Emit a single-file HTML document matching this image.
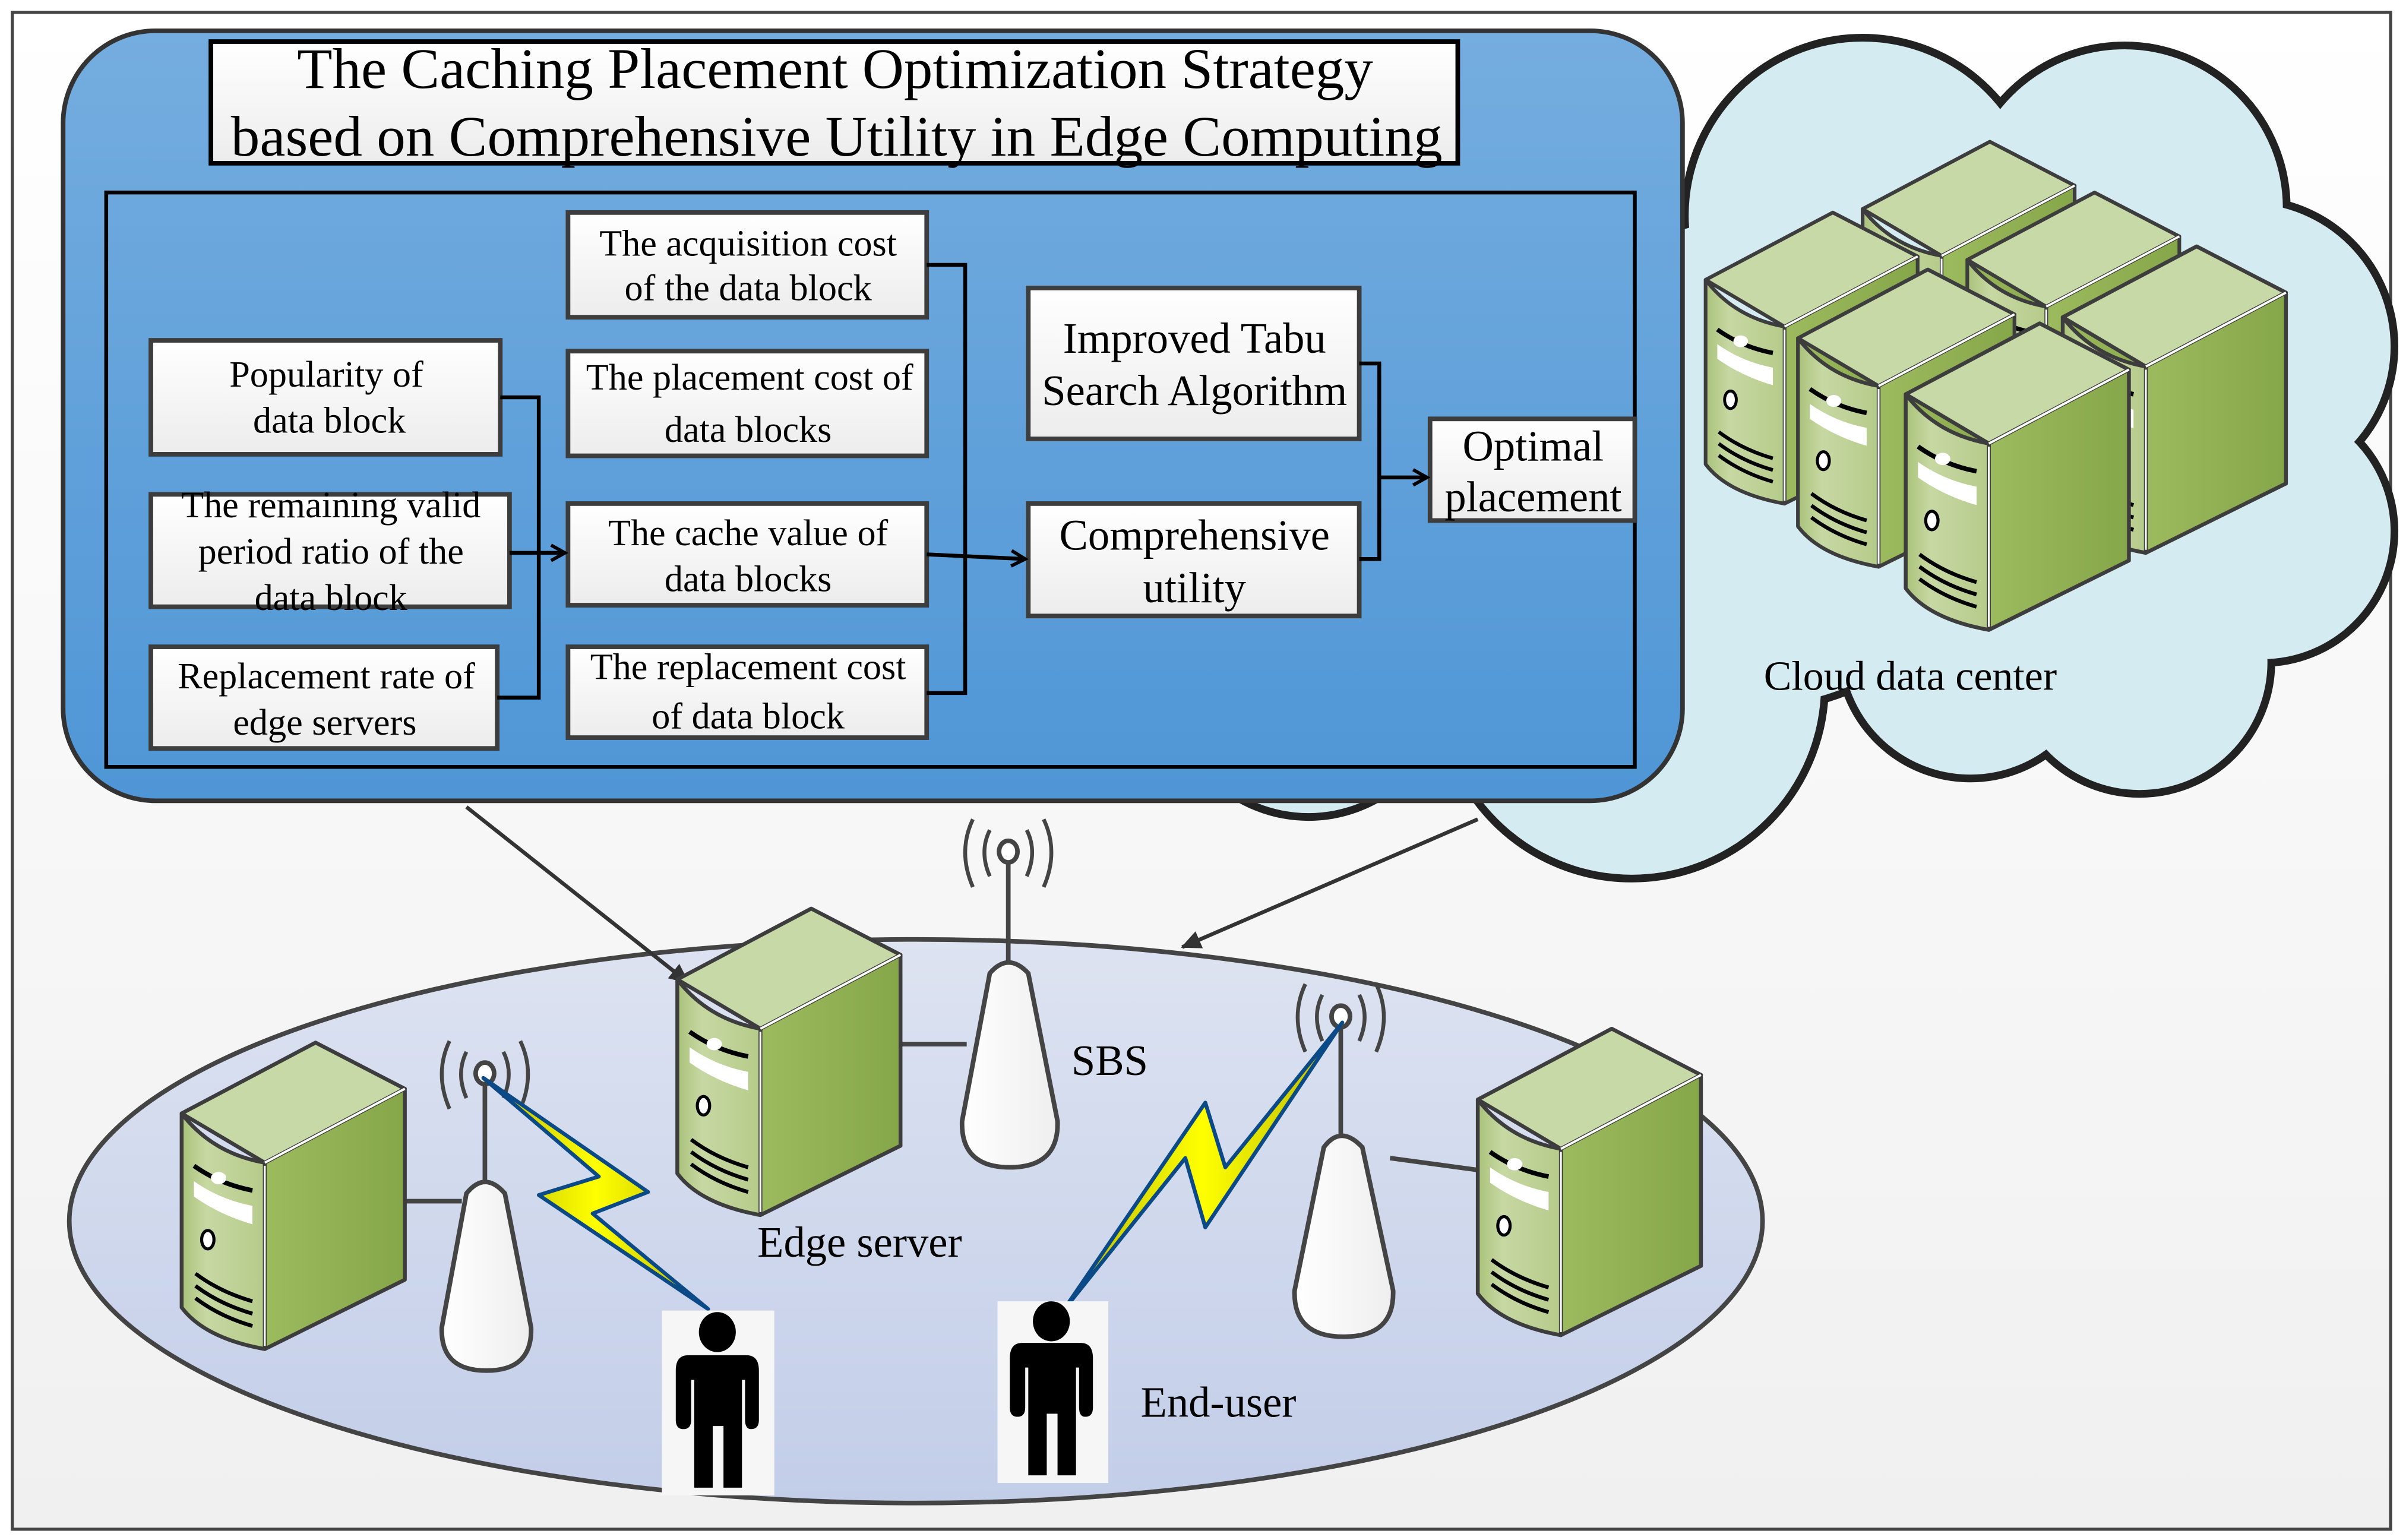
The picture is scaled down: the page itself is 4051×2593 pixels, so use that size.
<!DOCTYPE html>
<html><head><meta charset="utf-8"><style>
html,body{margin:0;padding:0;background:#fff;}
svg{display:block;}
text{font-family:"Liberation Serif",serif;fill:#000;}
</style></head><body>
<svg width="4051" height="2593" viewBox="0 0 1563 1000" preserveAspectRatio="none" xmlns="http://www.w3.org/2000/svg">
<defs>
<linearGradient id="bg" x1="0" y1="0" x2="0" y2="1"><stop offset="0" stop-color="#ffffff"/><stop offset="1" stop-color="#f0f0f0"/></linearGradient>
<linearGradient id="blue" x1="0" y1="0" x2="0" y2="1"><stop offset="0" stop-color="#75addf"/><stop offset="1" stop-color="#4f96d6"/></linearGradient>
<linearGradient id="box" x1="0" y1="0" x2="0" y2="1"><stop offset="0" stop-color="#ffffff"/><stop offset="1" stop-color="#ececec"/></linearGradient>
<linearGradient id="ell" x1="0" y1="0" x2="0" y2="1"><stop offset="0" stop-color="#dde3f1"/><stop offset="1" stop-color="#c2cde8"/></linearGradient>
<linearGradient id="side" x1="0" y1="0" x2="1" y2="0"><stop offset="0" stop-color="#9cbb5e"/><stop offset="1" stop-color="#86a64a"/></linearGradient>
<linearGradient id="front" x1="0" y1="0" x2="1" y2="0"><stop offset="0" stop-color="#a9c27a"/><stop offset="0.3" stop-color="#c7d8a3"/><stop offset="1" stop-color="#b5cb8a"/></linearGradient>
<linearGradient id="tower" x1="0" y1="0" x2="1" y2="0"><stop offset="0" stop-color="#ffffff"/><stop offset="1" stop-color="#eeeeee"/></linearGradient>
<linearGradient id="bolt" x1="0" y1="0" x2="1" y2="0"><stop offset="0" stop-color="#b8b800"/><stop offset="0.5" stop-color="#ffff00"/><stop offset="1" stop-color="#b8b800"/></linearGradient>
<marker id="ar" markerWidth="12" markerHeight="12" refX="10" refY="6" orient="auto" markerUnits="userSpaceOnUse"><path d="M1,1 L10,6 L1,11" fill="none" stroke="#000" stroke-width="2.2"/></marker>
<marker id="ar2" markerWidth="14" markerHeight="14" refX="12" refY="7" orient="auto" markerUnits="userSpaceOnUse"><path d="M0,1 L13,7 L0,13 Z" fill="#333"/></marker>
<g id="srv">
<path d="M0,46 L87,0 L145,30 L54,78 Z" fill="#c8d9a8" stroke="#3d3d3d" stroke-width="2.5" stroke-linejoin="round"/>
<path d="M54,78 L145,30 L145,154 L54,199 Z" fill="url(#side)" stroke="#3d3d3d" stroke-width="2.5" stroke-linejoin="round"/>
<path d="M0,46 Q20,72 54,78 L54,199 Q15,192 0,172 Z" fill="url(#front)" stroke="#3d3d3d" stroke-width="2.5" stroke-linejoin="round"/>
<path d="M54,78 L145,30" stroke="#fff" stroke-width="1.5"/>
<path d="M54,80 L54,197" stroke="#fff" stroke-width="1.2"/>
<path d="M8,80 Q25,92 46,96" stroke="#000" stroke-width="3" fill="none"/>
<ellipse cx="24" cy="88" rx="5" ry="4" fill="#fff"/>
<path d="M8,90 Q25,102 46,106 L46,118 Q25,112 8,100 Z" fill="#fff"/>
<ellipse cx="17" cy="128" rx="4" ry="6" fill="#fff" stroke="#000" stroke-width="2"/>
<path d="M9,150 Q25,162 46,168 M9,158 Q25,170 46,176 M9,166 Q25,178 46,184" stroke="#000" stroke-width="2.5" fill="none"/>
</g>
</defs>
<rect x="8" y="8" width="1545" height="985" fill="url(#bg)" stroke="#444" stroke-width="2"/>

<!-- cloud -->
<g stroke="#222" stroke-width="6">
<circle cx="1210" cy="140" r="115"/><circle cx="1380" cy="135" r="105"/><circle cx="1460" cy="225" r="95"/><circle cx="1470" cy="345" r="85"/><circle cx="1390" cy="430" r="85"/><circle cx="1280" cy="420" r="85"/><circle cx="1060" cy="445" r="125"/><circle cx="850" cy="440" r="90"/><circle cx="1140" cy="300" r="160"/><circle cx="1320" cy="280" r="130"/>
</g>
<g fill="#d4ecf1">
<circle cx="1210" cy="140" r="113"/><circle cx="1380" cy="135" r="103"/><circle cx="1460" cy="225" r="93"/><circle cx="1470" cy="345" r="83"/><circle cx="1390" cy="430" r="83"/><circle cx="1280" cy="420" r="83"/><circle cx="1060" cy="445" r="123"/><circle cx="850" cy="440" r="88"/><circle cx="1140" cy="300" r="158"/><circle cx="1320" cy="280" r="128"/>
</g>
<use href="#srv" transform="translate(1210,92) scale(0.95)"/>
<use href="#srv" transform="translate(1278,125) scale(0.95)"/>
<use href="#srv" transform="translate(1340,160)"/>
<use href="#srv" transform="translate(1108,138) scale(0.95)"/>
<use href="#srv" transform="translate(1168,175) scale(0.97)"/>
<use href="#srv" transform="translate(1238,210)"/>
<text x="1241" y="448" font-size="27" text-anchor="middle">Cloud data center</text>

<!-- blue panel -->
<rect x="41" y="20" width="1052" height="500" rx="60" fill="url(#blue)" stroke="#333" stroke-width="3"/>
<rect x="137" y="27" width="810" height="79" fill="url(#box)" stroke="#000" stroke-width="3"/>
<text x="193" y="57" font-size="37" textLength="699" lengthAdjust="spacingAndGlyphs">The Caching Placement Optimization Strategy</text>
<text x="150" y="101" font-size="37" textLength="787" lengthAdjust="spacingAndGlyphs">based on Comprehensive Utility in Edge Computing</text>
<rect x="69" y="125" width="993" height="373" fill="none" stroke="#000" stroke-width="2.5"/>

<g fill="url(#box)" stroke="#3d3d3d" stroke-width="3">
<rect x="98" y="221" width="227" height="74"/>
<rect x="98" y="321" width="233" height="73"/>
<rect x="98" y="420" width="225" height="66"/>
<rect x="369" y="138" width="233" height="68"/>
<rect x="369" y="228" width="233" height="68"/>
<rect x="369" y="327" width="233" height="66"/>
<rect x="369" y="420" width="233" height="59"/>
<rect x="668" y="187" width="215" height="98"/>
<rect x="668" y="327" width="215" height="73"/>
<rect x="929" y="272" width="133" height="66"/>
</g>
<g font-size="24" text-anchor="middle">
<text x="212" y="251">Popularity of</text><text x="214" y="281">data block</text>
<text x="215" y="336">The remaining valid</text><text x="215" y="366">period ratio of the</text><text x="215" y="396">data block</text>
<text x="212" y="447">Replacement rate of</text><text x="211" y="477">edge servers</text>
<text x="486" y="166">The acquisition cost</text><text x="486" y="195">of the data block</text>
<text x="487" y="253">The placement cost of</text><text x="486" y="287">data blocks</text>
<text x="486" y="354">The cache value of</text><text x="486" y="384">data blocks</text>
<text x="486" y="441">The replacement cost</text><text x="486" y="473">of data block</text>
</g>
<g font-size="28" text-anchor="middle">
<text x="776" y="229">Improved Tabu</text><text x="776" y="263">Search Algorithm</text>
<text x="776" y="357">Comprehensive</text><text x="776" y="391">utility</text>
<text x="996" y="299">Optimal</text><text x="996" y="332">placement</text>
</g>
<g stroke="#000" stroke-width="2.5" fill="none">
<path d="M325,258 H350 V453 H323"/>
<path d="M331,359 H367" marker-end="url(#ar)"/>
<path d="M602,172 H627 V450 H602"/>
<path d="M602,360 L666,363" marker-end="url(#ar)"/>
<path d="M883,236 H896 V363 H883"/>
<path d="M896,310 L927,310" marker-end="url(#ar)"/>
</g>

<!-- ellipse -->
<ellipse cx="595" cy="793" rx="550" ry="183" fill="url(#ell)" stroke="#444" stroke-width="3"/>
<path d="M303,524 L447,638" stroke="#333" stroke-width="2.5" marker-end="url(#ar2)"/>
<path d="M960,532 L768,615" stroke="#333" stroke-width="2.5" marker-end="url(#ar2)"/>
<g stroke="#444" stroke-width="3">
<path d="M263,780 H300"/><path d="M585,678 H628"/><path d="M903,752 L962,760"/>
</g>
<use href="#srv" transform="translate(118,677)"/>
<use href="#srv" transform="translate(440,590)"/>
<use href="#srv" transform="translate(960,668)"/>

<!-- towers -->
<g stroke="#444" stroke-width="3">
<path d="M315,697 V775"/><path d="M655,555 V632"/><path d="M871,660 V745"/>
</g>
<g fill="url(#tower)" stroke="#444" stroke-width="3">
<path d="M303,775 Q315,760 328,775 L345,862 Q346,890 316,890 Q286,890 287,862 Z"/>
<path d="M643,632 Q655,618 668,632 L687,728 Q688,758 656,758 Q624,758 625,728 Z"/>
<path d="M860,745 Q871,730 885,745 L905,838 Q906,868 873,868 Q840,868 841,838 Z"/>
</g>
<g fill="#fff" stroke="#444" stroke-width="3">
<ellipse cx="315" cy="697" rx="6" ry="7"/><ellipse cx="655" cy="553" rx="6" ry="7"/><ellipse cx="871" cy="660" rx="6" ry="7"/>
</g>
<g fill="none" stroke="#444" stroke-width="2.5">
<path d="M303,683 Q296,697 303,713 M327,683 Q334,697 327,713 M292,676 Q282,697 292,720 M338,676 Q348,697 338,720"/>
<path d="M643,539 Q636,553 643,569 M667,539 Q674,553 667,569 M632,532 Q622,553 632,576 M678,532 Q688,553 678,576"/>
<path d="M859,646 Q852,660 859,676 M883,646 Q890,660 883,676 M848,639 Q838,660 848,683 M894,639 Q904,660 894,683"/>
</g>

<!-- bolts -->
<path d="M314,700 L421,774 L385,788 L460,850 L350,776 L389,764 Z" fill="url(#bolt)" stroke="#0b4a86" stroke-width="2.5" stroke-linejoin="round"/>
<path d="M872,664 L783,797 L770,752 L690,852 L783,716 L796,758 Z" fill="url(#bolt)" stroke="#0b4a86" stroke-width="2.5" stroke-linejoin="round"/>

<!-- persons -->
<rect x="430" y="851" width="73" height="120" fill="#f6f6f6"/>
<rect x="648" y="845" width="72" height="118" fill="#f6f6f6"/>
<g fill="#000">
<ellipse cx="466" cy="865" rx="12" ry="13"/>
<path d="M447,880 H485 Q493,880 493,890 V922 Q493,928 488,928 Q484,928 484,922 V896 H482 V966 H470 V926 H463 V966 H451 V896 H449 V922 Q449,928 444,928 Q439,928 439,922 V890 Q439,880 447,880 Z"/>
<ellipse cx="683" cy="858" rx="12" ry="13"/>
<path d="M664,872 H702 Q710,872 710,882 V914 Q710,920 705,920 Q701,920 701,914 V888 H699 V958 H687 V918 H680 V958 H668 V888 H666 V914 Q666,920 661,920 Q656,920 656,914 V882 Q656,872 664,872 Z"/>
</g>

<g font-size="28">
<text x="696" y="698">SBS</text>
<text x="492" y="816">Edge server</text>
<text x="741" y="920">End-user</text>
</g>
</svg>
</body></html>
